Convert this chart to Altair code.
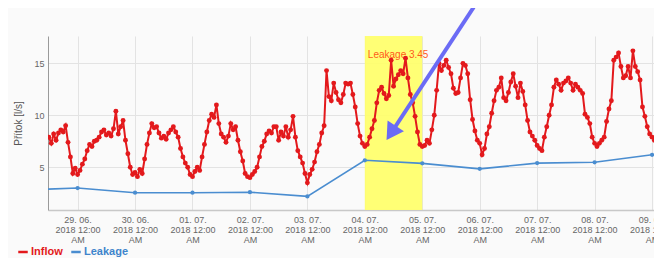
import altair as alt
import pandas as pd

TITLE = "3509 D1 Orlová DN 400"
Y_TITLE = "Přítok [l/s]"
SERIES = ["Inflow", "Leakage"]
COLORS = ["#e3191c", "#4a8dd0"]

# hourly inflow readings, starting 28.06.2018 12:00
INFLOW_START = "2018-06-28T12:00:00"
inflow_2806 = [7.9, 7.3, 8.2, 7.6, 8.3, 8.6, 8.4, 9.0, 7.4, 6.0, 4.4, 4.9]
inflow_2906 = [4.3, 4.7, 5.3, 5.8, 6.6, 7.2, 7.0, 7.5, 7.6, 7.9, 8.4, 8.6,
               8.1, 8.3, 8.0, 8.7, 10.4, 8.2, 8.9, 9.5, 7.6, 6.3, 5.0, 4.3]
inflow_3006 = [4.5, 4.1, 4.8, 4.4, 5.8, 7.2, 8.3, 9.2, 8.8, 8.9, 8.3, 7.8,
               8.0, 7.7, 8.3, 8.6, 8.9, 8.4, 7.9, 6.8, 6.0, 5.4, 5.0, 4.3]
inflow_0107 = [4.1, 4.6, 5.0, 4.7, 6.0, 7.2, 8.4, 9.5, 10.1, 9.8, 11.0, 9.2,
               8.2, 7.9, 7.4, 8.0, 9.2, 8.6, 8.9, 7.6, 6.5, 5.6, 4.4, 4.1]
inflow_0207 = [4.0, 4.3, 4.6, 5.0, 6.0, 7.0, 7.5, 8.2, 8.5, 8.3, 8.9, 8.9,
               7.6, 8.4, 8.0, 8.9, 7.9, 8.6, 9.9, 7.9, 6.6, 6.0, 5.4, 4.4]
inflow_0307 = [3.5, 4.3, 4.8, 5.5, 6.5, 7.2, 8.3, 9.0, 14.3, 11.8, 11.4, 13.1,
               12.2, 11.5, 11.2, 12.0, 13.1, 13.0, 13.1, 12.0, 10.8, 9.2, 8.0, 7.3]
inflow_0407 = [7.0, 7.2, 7.9, 8.7, 9.5, 11.2, 12.4, 12.7, 12.1, 11.6, 11.9, 15.3,
               12.8, 13.5, 13.9, 14.3, 14.0, 15.5, 13.6, 12.0, 11.2, 9.9, 8.4, 7.2]
inflow_0507 = [7.0, 7.1, 7.6, 7.3, 8.6, 10.0, 12.4, 15.0, 14.3, 14.8, 15.3, 14.6,
               14.0, 12.6, 12.1, 12.2, 13.6, 15.0, 14.8, 14.0, 11.5, 9.6, 8.5, 7.6]
inflow_0607 = [7.3, 6.2, 6.8, 8.2, 8.9, 10.2, 11.4, 12.4, 12.7, 13.6, 11.7, 11.4,
               12.2, 13.2, 14.0, 12.8, 11.7, 13.1, 12.3, 11.0, 9.5, 8.4, 8.0, 7.6]
inflow_0707 = [7.1, 6.8, 6.6, 7.9, 8.9, 10.0, 11.0, 12.7, 13.4, 13.0, 12.4, 13.1,
               13.3, 13.6, 13.1, 12.4, 13.0, 12.7, 12.4, 12.1, 10.1, 9.8, 9.2, 7.9]
inflow_0807 = [7.3, 7.0, 7.3, 7.6, 7.9, 9.4, 10.6, 11.4, 15.3, 15.6, 16.0, 14.7,
               13.6, 13.8, 14.7, 13.6, 16.2, 14.7, 14.2, 13.4, 10.8, 9.9, 8.9, 8.2]
inflow_0907 = [7.9, 7.6]

inflow_values = (inflow_2806 + inflow_2906 + inflow_3006 + inflow_0107 + inflow_0207
                 + inflow_0307 + inflow_0407 + inflow_0507 + inflow_0607
                 + inflow_0707 + inflow_0807 + inflow_0907)

leak_dates = ["2018-06-28T00:00:00", "2018-06-29T00:00:00", "2018-06-30T00:00:00",
              "2018-07-01T00:00:00", "2018-07-02T00:00:00", "2018-07-03T00:00:00",
              "2018-07-04T00:00:00", "2018-07-05T00:00:00", "2018-07-06T00:00:00",
              "2018-07-07T00:00:00", "2018-07-08T00:00:00", "2018-07-09T00:00:00"]
leak_values = [2.8, 3.0, 2.55, 2.55, 2.6, 2.2, 5.67, 5.38, 4.85, 5.4, 5.48, 6.2]

band_start = ["2018-07-04T00:00:00"]
band_end = ["2018-07-05T00:00:00"]
band_label = ["Leakage 3.45"]
band_label_y = [16.3]

arrow_start_t = ["2018-07-05T21:30:00"]
arrow_start_v = [20.4]
arrow_tip_t = ["2018-07-04T11:00:00"]
arrow_tip_v = [8.3]

tick_days = [(6, 29), (6, 30), (7, 1), (7, 2), (7, 3), (7, 4), (7, 5), (7, 6),
             (7, 7), (7, 8), (7, 9)]

FONT = "Liberation Sans"

inflow_df = pd.DataFrame({
    "t": pd.date_range(INFLOW_START, periods=len(inflow_values), freq="h"),
    "v": inflow_values,
    "s": SERIES[0],
})
leak_df = pd.DataFrame({"t": leak_dates, "v": leak_values, "s": SERIES[1]})
band_df = pd.DataFrame({"t1": band_start, "t2": band_end, "lab": band_label, "y": band_label_y})
arrow_df = pd.DataFrame({"t1": arrow_start_t, "v1": arrow_start_v,
                         "t2": arrow_tip_t, "v2": arrow_tip_v})

x_scale = alt.Scale(domain=[alt.DateTime(year=2018, month=6, date=28, hours=11, minutes=38),
                            alt.DateTime(year=2018, month=7, date=9, hours=0, minutes=49)])
y_scale = alt.Scale(domain=[0.89, 17.63], nice=False, zero=False)

x_axis = alt.Axis(
    values=[alt.DateTime(year=2018, month=m, date=d) for m, d in tick_days],
    labelExpr="[timeFormat(datum.value, '%d. %m.'), timeFormat(datum.value, '%Y %I:%M'), timeFormat(datum.value, '%p')]",
    title=None, grid=True, gridColor="#e3e3e3", domainColor="#c8c8c8", domainWidth=1.5,
    ticks=False, labelFontSize=9, labelColor="#666666", labelLineHeight=10,
    labelPadding=5, labelFont=FONT, labelBaseline="top", labelFlush=False,
)
y_axis = alt.Axis(
    values=[5, 10, 15], title=Y_TITLE, grid=True, gridColor="#e3e3e3",
    domainColor="#9a9a9a", ticks=False, labelPadding=4, labelFontSize=9,
    labelColor="#666666", labelFont=FONT, titleFont=FONT, titleFontSize=10,
    titleColor="#555555", titleFontWeight="normal", titlePadding=10,
)

color = alt.Color(
    "s:N",
    scale=alt.Scale(domain=SERIES, range=COLORS),
    legend=alt.Legend(
        orient="none", legendX=-31, legendY=210, direction="horizontal", title=None,
        symbolType="stroke", symbolStrokeWidth=2.5, symbolSize=90,
        labelFontSize=11, labelFontWeight="bold", labelFont=FONT,
        columnPadding=3, labelOffset=2, padding=0,
        labelColor=alt.ExprRef("datum.value === 'Inflow' ? '#e3191c' : '#3f85cc'"),
    ),
)

band = alt.Chart(band_df).mark_rect(color="#ffff66", opacity=0.9).encode(
    x=alt.X("t1:T", scale=x_scale, axis=x_axis),
    x2="t2:T",
)
band_text = alt.Chart(band_df).mark_text(
    align="left", baseline="top", dx=3, fontSize=10, font=FONT, color="#ff5a1a"
).encode(
    x=alt.X("t1:T", scale=x_scale),
    y=alt.Y("y:Q", scale=y_scale),
    text="lab:N",
)
leak = alt.Chart(leak_df).mark_line(
    strokeWidth=1.6, clip=True,
    point=alt.OverlayMarkDef(size=18, filled=True, clip=True),
).encode(
    x=alt.X("t:T", scale=x_scale),
    y=alt.Y("v:Q", scale=y_scale, axis=y_axis),
    color=color,
)
inflow = alt.Chart(inflow_df).mark_line(
    strokeWidth=2, clip=True,
    point=alt.OverlayMarkDef(size=24, filled=True, clip=True),
).encode(
    x=alt.X("t:T", scale=x_scale),
    y=alt.Y("v:Q", scale=y_scale),
    color=color,
)
arrow_line = alt.Chart(arrow_df).mark_rule(color="#6b6bf5", strokeWidth=4).encode(
    x=alt.X("t1:T", scale=x_scale), y=alt.Y("v1:Q", scale=y_scale),
    x2="t2:T", y2="v2:Q",
)
arrow_head = alt.Chart(arrow_df).mark_point(
    shape="triangle-up", filled=True, size=380, angle=213, color="#6b6bf5", opacity=1
).encode(
    x=alt.X("t2:T", scale=x_scale), y=alt.Y("v2:Q", scale=y_scale),
)

chart = alt.layer(band, band_text, leak, inflow, arrow_line, arrow_head).properties(
    width=606, height=174,
    padding={"left": 40, "top": 28, "right": 0, "bottom": 48},
    autosize=alt.AutoSizeParams(type="none"),
    background="#fafafa",
    title=alt.TitleParams(TITLE, fontSize=10, font=FONT, color="#333333",
                          fontWeight="normal", anchor="middle", dx=-10, offset=8),
).configure_view(stroke=None)

chart.save("out.html", embed_options={"renderer": "svg", "actions": False})
